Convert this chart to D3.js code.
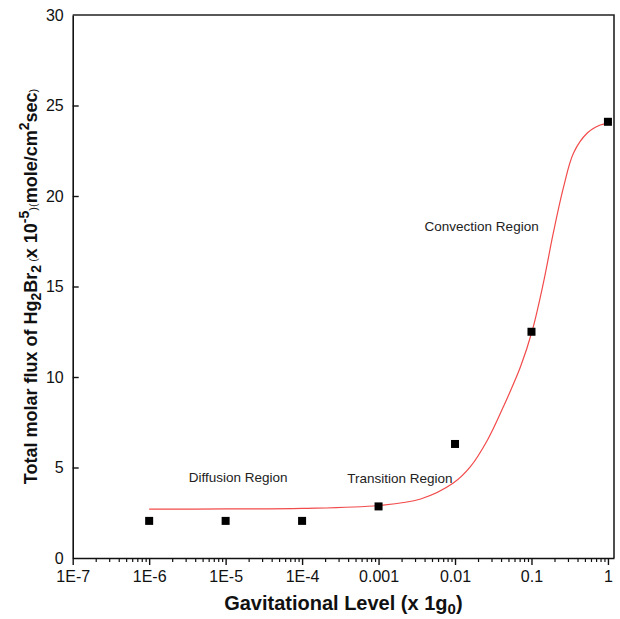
<!DOCTYPE html>
<html>
<head>
<meta charset="utf-8">
<script src="https://cdn.jsdelivr.net/npm/d3@7"></script>
<style>
  html, body { margin: 0; padding: 0; background: #fff; }
  svg { display: block; font-family: "Liberation Sans", Arial, sans-serif; }
</style>
</head>
<body>
<svg id="chart" width="620" height="619"></svg>
<script>
// ---- data ----
const gLevels = [1e-6, 1e-5, 1e-4, 1e-3, 1e-2, 1e-1, 1];
const flux = [2.05, 2.05, 2.05, 2.85, 6.3, 12.5, 24.1];

const fitX = [1e-6, 1e-5, 1e-4, 1e-3, 0.00355, 0.0095, 0.0158, 0.0266, 0.0427, 0.0716, 0.102, 0.143, 0.193, 0.263, 0.355, 0.537, 0.794, 1];
const fitY = [2.7, 2.71, 2.74, 2.9, 3.26, 4.14, 5.03, 6.52, 8.34, 10.55, 12.54, 15.19, 17.96, 20.5, 22.38, 23.48, 23.92, 24.03];

const xTickValues = [1e-7, 1e-6, 1e-5, 1e-4, 1e-3, 1e-2, 1e-1, 1];
const xTickLabels = ["1E-7", "1E-6", "1E-5", "1E-4", "0.001", "0.01", "0.1", "1"];
const yTickValues = [0, 5, 10, 15, 20, 25, 30];

const noteText = ["Diffusion Region", "Transition Region", "Convection Region"];
const noteX = [3.3e-6, 3.9e-4, 0.0040];
const noteY = [4.2, 4.14, 18.07];

// ---- layout ----
const svg = d3.select("#chart");
const L = 72.7, R = 614, T = 15, B = 558;

const x = d3.scaleLog().domain([1e-7, 1.2]).range([L, R]);
const y = d3.scaleLinear().domain([0, 30]).range([B, T]);

// frame (top & right)
svg.append("path")
  .attr("d", `M${L},${T}H${R}V${B}`)
  .attr("fill", "none").attr("stroke", "#222").attr("stroke-width", 1.6);

// x axis majors
const xAxis = svg.append("g").attr("transform", `translate(0,${B})`)
  .call(d3.axisBottom(x).tickValues(xTickValues)
    .tickFormat((d, i) => xTickLabels[i]).tickSize(7).tickPadding(6).tickSizeOuter(0));
xAxis.select(".domain").attr("stroke", "#111").attr("stroke-width", 1.6);
xAxis.selectAll(".tick line").attr("stroke", "#111").attr("stroke-width", 1.4);
xAxis.selectAll(".tick text").attr("font-size", 16).attr("fill", "#111")
  .attr("font-family", "'Liberation Sans', Arial, sans-serif");

// x axis minors
const minors = x.ticks().filter(v => !xTickValues.some(m => Math.abs(Math.log10(v) - Math.log10(m)) < 1e-6) && v < 1);
const xMinor = svg.append("g").attr("transform", `translate(0,${B})`)
  .call(d3.axisBottom(x).tickValues(minors).tickFormat("").tickSize(4).tickSizeOuter(0));
xMinor.select(".domain").remove();
xMinor.selectAll(".tick line").attr("stroke", "#111").attr("stroke-width", 1.2);

// y axis
const yAxis = svg.append("g").attr("transform", `translate(${L},0)`)
  .call(d3.axisLeft(y).tickValues(yTickValues).tickSize(0).tickPadding(9).tickSizeOuter(0));
yAxis.select(".domain").attr("stroke", "#111").attr("stroke-width", 1.6);
yAxis.selectAll(".tick text").attr("font-size", 16).attr("fill", "#111")
  .attr("font-family", "'Liberation Sans', Arial, sans-serif");
yAxis.selectAll(".tick").filter(d => d > 0 && d < 30).append("line")
  .attr("x1", 0).attr("x2", 6).attr("stroke", "#111").attr("stroke-width", 1.4);

// fitted curve
const line = d3.line().x(d => x(d[0])).y(d => y(d[1])).curve(d3.curveCatmullRom.alpha(0.5));
svg.append("path")
  .datum(fitX.map((v, i) => [v, fitY[i]]))
  .attr("d", line)
  .attr("fill", "none").attr("stroke", "#f24b4b").attr("stroke-width", 1.2);

// markers
const ms = 8;
svg.append("g").selectAll("rect")
  .data(gLevels.map((v, i) => [v, flux[i]]))
  .join("rect")
  .attr("x", d => x(d[0]) - ms / 2).attr("y", d => y(d[1]) - ms / 2)
  .attr("width", ms).attr("height", ms).attr("fill", "#000");

// annotations
svg.append("g").selectAll("text")
  .data(noteText)
  .join("text")
  .attr("x", (d, i) => x(noteX[i])).attr("y", (d, i) => y(noteY[i]))
  .attr("font-size", 13.5).attr("fill", "#222")
  .text(d => d);

// x title
const xt = svg.append("text")
  .attr("x", (L + R) / 2).attr("y", 610)
  .attr("text-anchor", "middle").attr("font-size", 20).attr("font-weight", "bold").attr("fill", "#111");
xt.append("tspan").text("Gavitational Level (x 1g");
xt.append("tspan").attr("font-size", 15).attr("dy", 4).text("0");
xt.append("tspan").attr("dy", -4).text(")");

// y title
const yt = svg.append("text")
  .attr("transform", `translate(37,${(T + B) / 2}) rotate(-90)`)
  .attr("text-anchor", "middle").attr("font-size", 18).attr("font-weight", "bold").attr("fill", "#111");
yt.append("tspan").text("Total molar flux of Hg");
yt.append("tspan").attr("font-size", 14).attr("dy", 4).text("2");
yt.append("tspan").attr("dy", -4).text("Br");
yt.append("tspan").attr("font-size", 14).attr("dy", 4).text("2");
yt.append("tspan").attr("dy", -4).attr("font-size", 11).attr("font-weight", "normal").text(" (");
yt.append("tspan").text("x 10");
yt.append("tspan").attr("font-size", 14).attr("dy", -8).text("-5");
yt.append("tspan").attr("dy", 8).attr("font-size", 11).attr("font-weight", "normal").text(")(");
yt.append("tspan").text("mole/cm");
yt.append("tspan").attr("font-size", 14).attr("dy", -8).text("2");
yt.append("tspan").attr("dy", 8).text("sec");
yt.append("tspan").attr("font-size", 11).attr("font-weight", "normal").text(")");
</script>
</body>
</html>
